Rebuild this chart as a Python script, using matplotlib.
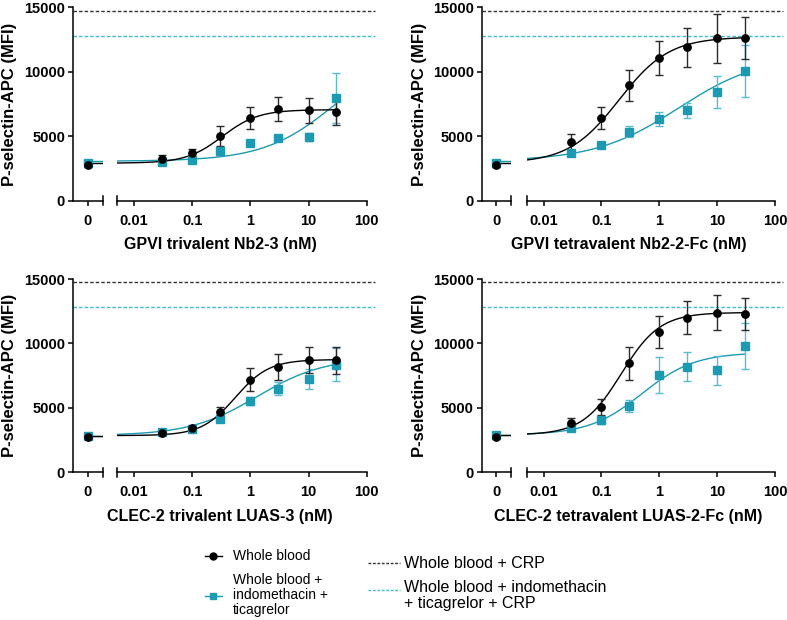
import numpy as np
import matplotlib
matplotlib.use("Agg")
import matplotlib.pyplot as plt
from matplotlib.lines import Line2D

plt.rcParams['font.family'] = ['Liberation Sans', 'DejaVu Sans']
plt.rcParams['font.weight'] = 'bold'
plt.rcParams['axes.labelweight'] = 'bold'

# concentrations (nM), the zero dose sits on its own broken-off segment
conc = [0.03, 0.1, 0.3, 1, 3, 10, 30]

titles = ["GPVI trivalent Nb2-3 (nM)", "GPVI tetravalent Nb2-2-Fc (nM)",
          "CLEC-2 trivalent LUAS-3 (nM)", "CLEC-2 tetravalent LUAS-2-Fc (nM)"]

# whole blood (mean, SEM)
wb_zero = [2750, 2750, 2750, 2750]
wb_zero_err = [120, 120, 120, 120]
wb_mean = [
    [3200, 3650, 5000, 6400, 7100, 7000, 6850],
    [4550, 6400, 8950, 11050, 11900, 12600, 12600],
    [3050, 3400, 4700, 7200, 8150, 8700, 8700],
    [3850, 5050, 8450, 10900, 12000, 12400, 12300],
]
wb_err = [
    [300, 350, 800, 870, 950, 950, 950],
    [600, 870, 1200, 1300, 1500, 1900, 1650],
    [150, 150, 400, 900, 1000, 1000, 1050],
    [350, 600, 1300, 1250, 1300, 1350, 1250],
]

# whole blood + indomethacin + ticagrelor
ind_zero = [2900, 2900, 2850, 2900]
ind_zero_err = [120, 120, 120, 120]
ind_mean = [
    [3000, 3150, 3850, 4500, 4850, 4950, 7950],
    [3700, 4300, 5350, 6350, 7000, 8400, 10050],
    [3100, 3350, 4150, 5550, 6500, 7250, 8350],
    [3400, 4050, 5150, 7550, 8200, 7900, 9800],
]
ind_err = [
    [200, 200, 300, 200, 200, 300, 1950],
    [150, 150, 450, 550, 600, 1250, 2000],
    [150, 150, 200, 300, 500, 800, 1300],
    [150, 300, 450, 1400, 1150, 1100, 1750],
]

# 4PL fit parameters: bottom, top, EC50, hill
wb_fit = [(2900, 7050, 0.33, 1.4), (2900, 12700, 0.2, 1.0),
          (2850, 8750, 0.55, 1.5), (2900, 12400, 0.22, 1.3)]
ind_fit = [(3050, 12000, 30, 0.7), (3050, 11300, 2.14, 0.6),
           (2850, 8900, 1.3, 0.75), (2900, 9300, 0.5, 0.95)]

# CRP reference levels
crp_wb = 14750
crp_ind = 12800

BLACK = "#000000"
TEAL = "#1a9bb4"
TEAL_ERR = "#55bdd2"
TEAL_DASH = "#3bbcd2"

W, H = 787, 620
fig = plt.figure(figsize=(W / 100, H / 100), dpi=100)


def fx(x):
    return x / W


def fy(y):
    return 1 - y / H


# pixel layout: y-axis, end of zero segment, start and end of log segment
cols = [(73.3, 102.7, 116.7, 366.7), (482.0, 510.7, 526.5, 775.0)]
rows = [(7.3, 200.5), (279.0, 472.3)]
ylab_right = [17.5, 427.0]


def fourpl(x, p):
    b, t, ec, h = p
    return b + (t - b) / (1 + (ec / x) ** h)


for i in range(4):
    x0, x1, x2, x3 = cols[i % 2]
    ytop, ybot = rows[i // 2]
    ax0 = fig.add_axes([fx(x0), fy(ybot), (x1 - x0) / W, (ybot - ytop) / H])
    ax1 = fig.add_axes([fx(x2), fy(ybot), (x3 - x2) / W, (ybot - ytop) / H])

    for ax in (ax0, ax1):
        ax.set_ylim(0, 15000)
        ax.patch.set_alpha(0)
        for s in ("top", "right"):
            ax.spines[s].set_visible(False)
        for s in ("left", "bottom"):
            ax.spines[s].set_linewidth(1.1)
        ax.tick_params(length=3.4, width=1.1, labelsize=10.5, color="black")
    ax1.spines["left"].set_visible(False)
    ax1.tick_params(axis="y", left=False, labelleft=False)
    ax0.tick_params(axis="y", pad=2.5)
    ax0.tick_params(axis="x", pad=6)
    ax1.tick_params(axis="x", pad=6)

    ax0.set_xlim(-1, 1)
    ax0.set_xticks([0])
    ax0.set_xticklabels(["0"])
    ax0.set_yticks([0, 5000, 10000, 15000])
    ax0.set_ylabel("P-selectin-APC (MFI)", fontsize=12, fontweight="bold")
    ax0.yaxis.set_label_coords((ylab_right[i % 2] - x0) / (x1 - x0), 0.5)

    ax1.set_xscale("log")
    ax1.set_xlim(0.00505, 100)
    ax1.set_xticks([0.01, 0.1, 1, 10, 100])
    ax1.set_xticklabels(["0.01", "0.1", "1", "10", "100"])
    ax1.minorticks_off()

    # break marks
    d = 4.5 / (ybot - ytop)
    ax0.plot([1, 1], [-d, d], transform=ax0.transAxes, color="black", lw=1.1, clip_on=False)
    ax1.plot([0, 0], [-d, d], transform=ax1.transAxes, color="black", lw=1.1, clip_on=False)

    # CRP reference lines across the whole panel
    xmax = (x3 + 8 - x0) / (x1 - x0)
    ax0.axhline(crp_wb, xmin=0, xmax=xmax, color="#333333", lw=1.0, dashes=(2.5, 1.5), clip_on=False)
    ax0.axhline(crp_ind, xmin=0, xmax=xmax, color=TEAL_DASH, lw=1.0, dashes=(2.5, 1.5), clip_on=False)

    xs = np.logspace(np.log10(0.00505), np.log10(30), 200)
    series = [(ind_zero, ind_zero_err, ind_mean, ind_err, ind_fit, TEAL, TEAL_ERR, "s"),
              (wb_zero, wb_zero_err, wb_mean, wb_err, wb_fit, BLACK, "#2a2a2a", "o")]
    for z, ze, m, e, fit, c, ec, mk in series:
        p = fit[i]
        ax0.plot([0, 1], [p[0], p[0]], color=c, lw=1.0)
        ax0.errorbar([0], [z[i]], yerr=[ze[i]], fmt=mk, color=c, ecolor=ec,
                     ms=5.3, elinewidth=1.0, capsize=2.6, capthick=1.0, clip_on=False)
        ax1.plot(xs, fourpl(xs, p), color=c, lw=1.0)
        ax1.errorbar(conc, m[i], yerr=e[i], fmt=mk, color=c, ecolor=ec,
                     ms=5.3, elinewidth=1.0, capsize=2.6, capthick=1.0, clip_on=False)

    fig.text(fx((x0 + x3) / 2), fy(ybot + 44), titles[i], fontsize=11.5,
             ha="center", va="center")

# legend drawn by hand to match the two-column layout
fig.add_artist(Line2D([fx(205), fx(222)], [fy(556), fy(556)], color=BLACK, lw=1.0))
fig.add_artist(Line2D([fx(213.5)], [fy(556)], color=BLACK, marker="o", ms=5))
fig.text(fx(233), fy(556), "Whole blood", fontsize=10, fontweight="normal", va="center")
fig.add_artist(Line2D([fx(205), fx(222)], [fy(596), fy(596)], color=TEAL, lw=1.0))
fig.add_artist(Line2D([fx(213.5)], [fy(596)], color=TEAL, marker="s", ms=5))
fig.text(fx(233), fy(595), "Whole blood +\nindomethacin +\nticagrelor", fontsize=10,
         fontweight="normal", va="center", linespacing=1.12)

fig.add_artist(Line2D([fx(368), fx(400)], [fy(563), fy(563)], color="#333333", lw=1.0,
                      dashes=(2.0, 1.2)))
fig.text(fx(404), fy(563), "Whole blood + CRP", fontsize=11.5, fontweight="normal", va="center")
fig.add_artist(Line2D([fx(368), fx(400)], [fy(590), fy(590)], color=TEAL_DASH, lw=1.0,
                      dashes=(2.0, 1.2)))
fig.text(fx(404), fy(595.5), "Whole blood + indomethacin\n+ ticagrelor + CRP", fontsize=11.5,
         fontweight="normal", va="center", linespacing=1.05)

fig.savefig("out.png", dpi=100)
